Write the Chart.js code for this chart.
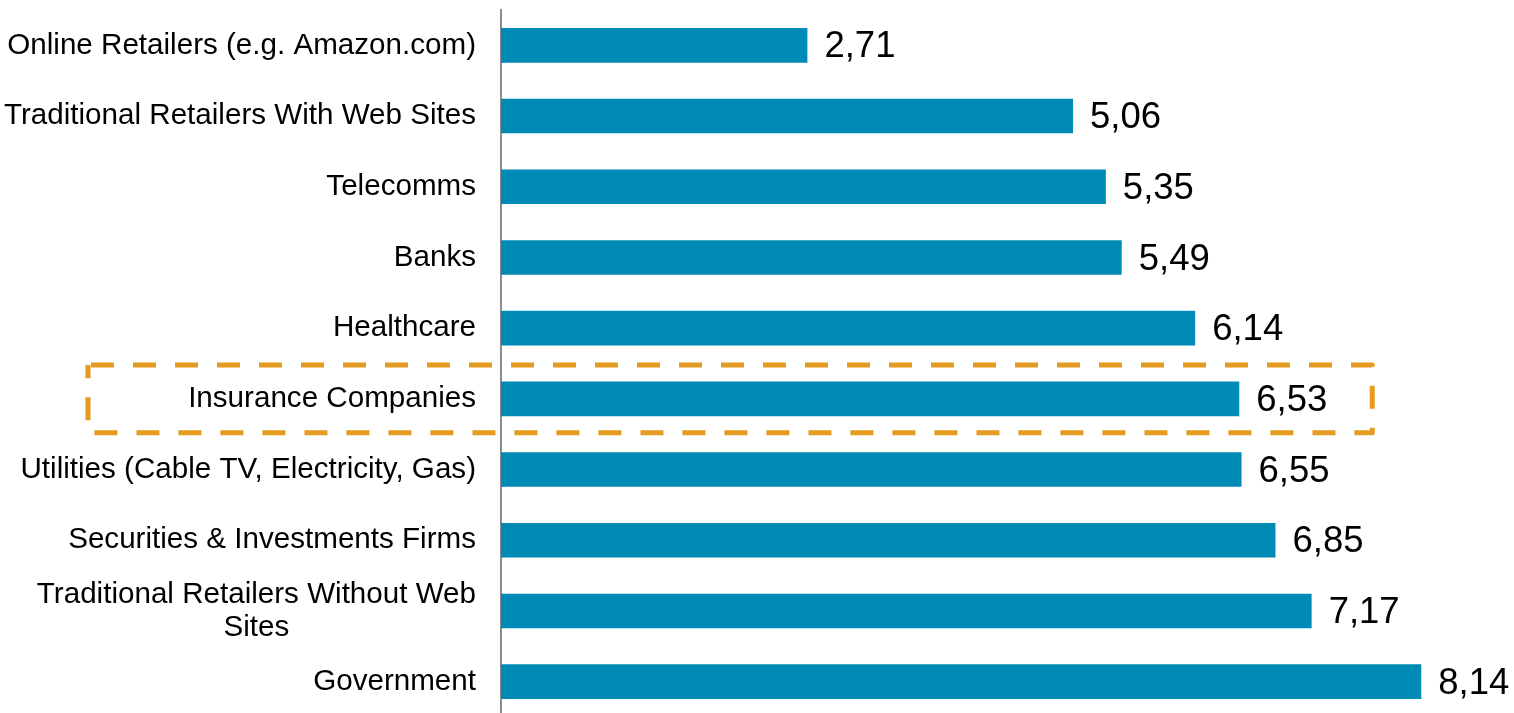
<!DOCTYPE html>
<html>
<head>
<meta charset="utf-8">
<script src="https://cdn.jsdelivr.net/npm/chart.js@4"></script>
<style>
html,body{margin:0;padding:0;background:#fff;overflow:hidden;}
#wrap{position:relative;width:1514px;height:717px;}
</style>
</head>
<body>
<div id="wrap"><canvas id="c"></canvas></div>
<script>
const categories = [
  'Online Retailers (e.g. Amazon.com)',
  'Traditional Retailers With Web Sites',
  'Telecomms',
  'Banks',
  'Healthcare',
  'Insurance Companies',
  'Utilities (Cable TV, Electricity, Gas)',
  'Securities & Investments Firms',
  ['Traditional Retailers Without Web', 'Sites'],
  'Government'
];
const values = [2.71, 5.06, 5.35, 5.49, 6.14, 6.53, 6.55, 6.85, 7.17, 8.14];
const highlightIndex = 5;

const LABEL_FONT = '29.6px "Liberation Sans", Arial, sans-serif';
const VALUE_FONT = '36.5px "Liberation Sans", Arial, sans-serif';

const labelPlugin = {
  id: 'customLabels',
  afterDraw(chart) {
    const ctx = chart.ctx;
    const ys = chart.scales.y, xs = chart.scales.x;
    const meta = chart.getDatasetMeta(0);
    ctx.save();
    ctx.font = LABEL_FONT;
    ctx.fillStyle = '#000';
    ctx.textBaseline = 'middle';
    const rightX = chart.chartArea.left - 25;
    categories.forEach((lab, i) => {
      const y = ys.getPixelForValue(i);
      const lines = Array.isArray(lab) ? lab : [lab];
      if (lines.length === 1) {
        ctx.textAlign = 'right';
        ctx.fillText(lines[0], rightX, y);
      } else {
        const w = Math.max(...lines.map(l => ctx.measureText(l).width));
        const cx = rightX - w / 2;
        const lh = 33;
        ctx.textAlign = 'center';
        lines.forEach((l, k) => {
          ctx.fillText(l, cx, y + (k - (lines.length - 1) / 2) * lh);
        });
      }
    });
    ctx.font = VALUE_FONT;
    ctx.textAlign = 'left';
    meta.data.forEach((bar, i) => {
      const txt = values[i].toFixed(2).replace('.', ',');
      ctx.fillText(txt, bar.x + 17, bar.y + 2);
    });
    const hb = meta.data[highlightIndex];
    const step = ys.getPixelForValue(1) - ys.getPixelForValue(0);
    const top = hb.y - step * 0.48;
    const bot = hb.y + step * 0.48;
    const left = 88;
    const right = xs.getPixelForValue(values[highlightIndex]) + 133;
    ctx.strokeStyle = '#E59B1F';
    ctx.lineWidth = 5;
    ctx.setLineDash([23, 19]);
    ctx.lineJoin = 'round';
    ctx.beginPath();
    ctx.moveTo(left + 3, top);
    ctx.lineTo(right, top);
    ctx.lineTo(right, bot);
    ctx.lineTo(left, bot);
    ctx.lineTo(left, top);
    ctx.stroke();
    ctx.restore();
  }
};

new Chart(document.getElementById('c'), {
  type: 'bar',
  data: {
    labels: categories,
    datasets: [{
      data: values,
      backgroundColor: '#008AB6',
      borderWidth: 0,
      barPercentage: 0.98,
      categoryPercentage: 0.5
    }]
  },
  options: {
    indexAxis: 'y',
    responsive: true,
    maintainAspectRatio: false,
    animation: false,
    layout: { padding: { top: 10, bottom: 0, left: 0, right: 0 } },
    plugins: { legend: { display: false }, tooltip: { enabled: false } },
    scales: {
      x: {
        min: 0, max: 8.96,
        display: false,
        grid: { display: false }
      },
      y: {
        ticks: { display: false },
        grid: { display: false, drawTicks: false },
        border: { display: true, color: '#8C8C8C', width: 2 },
        afterFit(s) { s.width = 501; }
      }
    }
  },
  plugins: [labelPlugin]
});
</script>
</body>
</html>
